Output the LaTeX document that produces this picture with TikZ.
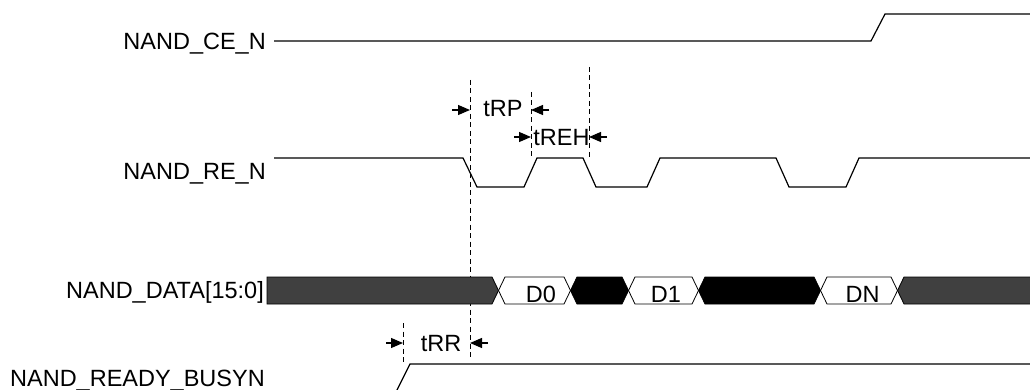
\documentclass[tikz,border=0pt]{standalone}
\usepackage{fontspec}
\setmainfont{Liberation Sans}
\usetikzlibrary{arrows.meta}
\definecolor{busgray}{HTML}{404040}
\begin{document}
\begin{tikzpicture}[x=1pt,y=-1pt,
  sig/.style={line width=1.2pt, draw=black, line join=miter},
  guide/.style={line width=0.9pt, draw=black, dash pattern=on 5pt off 3.5pt},
  dim/.style={line width=1.2pt, draw=black, -{Triangle[length=12pt,width=10pt]}},
  lbl/.style={anchor=base east, inner sep=0pt, font=\fontsize{23.5}{27}\selectfont},
  txt/.style={anchor=base, inner sep=0pt, font=\fontsize{23.5}{27}\selectfont},
  bus/.style={line width=0.8pt, draw=black, line join=miter}]
\useasboundingbox (0,0) rectangle (1030,390);
\clip (0,0) rectangle (1030,390);

% labels
\node[lbl] (lce) at (266,50) {NAND\_CE\_N};
\node[lbl] (lre) at (266,180) {NAND\_RE\_N};
\node[lbl] (ldata) at (264,298) {NAND\_DATA[15:0]};
\node[lbl] (lrdy) at (265,386.5) {NAND\_READY\_BUSYN};

% guide lines (dashed)
\coordinate (g1t) at (470,80);   \coordinate (g1b) at (470,357);
\coordinate (g2t) at (531,92);   \coordinate (g2b) at (531,157);
\coordinate (g3t) at (589,67);   \coordinate (g3b) at (589,157);
\coordinate (g4t) at (403,323);  \coordinate (g4b) at (403,362);
\draw[guide] (g1t) -- (g1b);
\draw[guide] (g2t) -- (g2b);
\draw[guide] (g3t) -- (g3b);
\draw[guide] (g4t) -- (g4b);

% signals
\draw[sig] (274,41) -- (871,41) -- (885,14) -- (1035,14);
\draw[sig] (274,158) -- (463,158) -- (477,187) -- (524,187) -- (537,158)
  -- (583,158) -- (596,187) -- (647,187) -- (660,158) -- (776,158)
  -- (789,187) -- (846,187) -- (859,158) -- (1035,158);
\draw[sig] (396,392) -- (410,364) -- (1035,364);

% data bus
\path[bus, fill=busgray] (267,277) -- (492,277) -- (498.5,290.5) -- (492,304) -- (267,304) -- cycle;
\path[bus, fill=white] (498.5,290.5) -- (505,277) -- (564,277) -- (570.5,290.5) -- (564,304) -- (505,304) -- cycle;
\path[bus, fill=black] (570.5,290.5) -- (577,277) -- (622,277) -- (628.5,290.5) -- (622,304) -- (577,304) -- cycle;
\path[bus, fill=white] (628.5,290.5) -- (635,277) -- (692,277) -- (698.5,290.5) -- (692,304) -- (635,304) -- cycle;
\path[bus, fill=black] (698.5,290.5) -- (705,277) -- (814,277) -- (820.5,290.5) -- (814,304) -- (705,304) -- cycle;
\path[bus, fill=white] (820.5,290.5) -- (827,277) -- (891,277) -- (897.5,290.5) -- (891,304) -- (827,304) -- cycle;
\path[bus, fill=busgray] (897.5,290.5) -- (904,277) -- (1035,277) -- (1035,304) -- (904,304) -- cycle;
\node[txt] (d0) at (541,302) {D0};
\node[txt] (d1) at (666,302) {D1};
\node[txt] (dn) at (862.5,302) {DN};

% dimension arrows
\coordinate (rpA) at (452,110); \coordinate (rpB) at (470,110);
\coordinate (rpC) at (549,110); \coordinate (rpD) at (531,110);
\draw[dim] (rpA) -- (rpB);
\draw[dim] (rpC) -- (rpD);
\node[txt] (trp) at (503,116.5) {tRP};

\coordinate (rhA) at (514,137); \coordinate (rhB) at (531,137);
\coordinate (rhC) at (607,137); \coordinate (rhD) at (589,137);
\draw[dim] (rhA) -- (rhB);
\draw[dim] (rhC) -- (rhD);
\node[txt] (treh) at (561.5,145.5) {tREH};

\coordinate (rrA) at (386,343); \coordinate (rrB) at (403,343);
\coordinate (rrC) at (488,343); \coordinate (rrD) at (470,343);
\draw[dim] (rrA) -- (rrB);
\draw[dim] (rrC) -- (rrD);
\node[txt] (trr) at (441,351.5) {tRR};
\end{tikzpicture}
\end{document}
